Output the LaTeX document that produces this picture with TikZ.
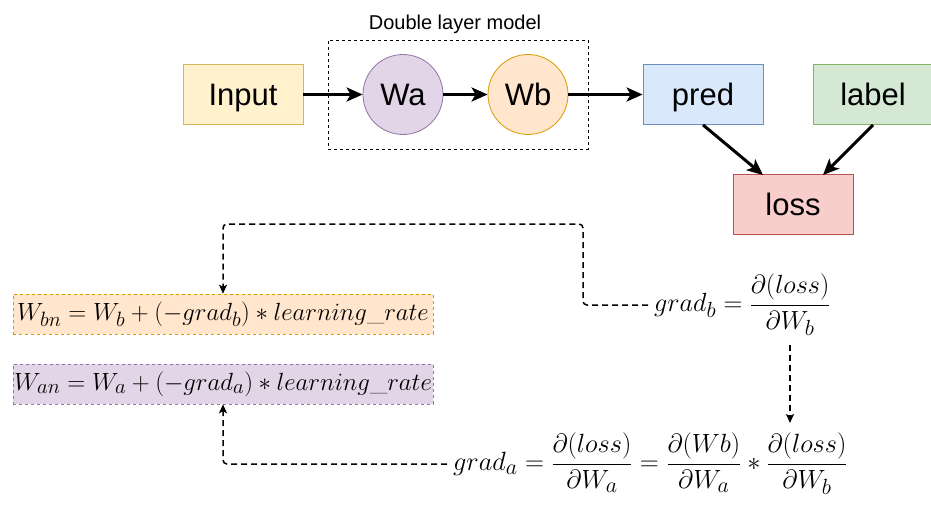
\documentclass[tikz,border=0pt]{standalone}
\usepackage{graphicx}
\usepackage{fontspec}
\newfontfamily\arialf{Liberation Sans}
\usetikzlibrary{arrows.meta}
\definecolor{yfill}{HTML}{FFF2CC}\definecolor{ydraw}{HTML}{D6B656}
\definecolor{pfill}{HTML}{E1D5E7}\definecolor{pdraw}{HTML}{9673A6}
\definecolor{ofill}{HTML}{FFE6CC}\definecolor{odraw}{HTML}{D79B00}
\definecolor{bfill}{HTML}{DAE8FC}\definecolor{bdraw}{HTML}{6C8EBF}
\definecolor{gfill}{HTML}{D5E8D4}\definecolor{gdraw}{HTML}{82B366}
\definecolor{rfill}{HTML}{F8CECC}\definecolor{rdraw}{HTML}{B85450}
\begin{document}
\begin{tikzpicture}[x=1pt,y=-1pt,
  box/.style={draw, rectangle, minimum width=120pt, minimum height=60pt, inner sep=0pt, text height=22pt, text depth=0pt, line width=0.8pt, font=\arialf\fontsize{31}{34}\selectfont},
  circ/.style={draw, circle, minimum size=80pt, inner sep=0pt, text height=22pt, text depth=0pt, line width=0.8pt, font=\arialf\fontsize{31}{34}\selectfont},
  flow/.style={line width=3pt, -{Stealth[length=16pt,width=14pt,inset=4pt]}},
  back/.style={line width=1.5pt, dash pattern=on 6pt off 4pt, rounded corners=4pt, -{Stealth[length=9pt,width=8pt,inset=2pt]}},
  eqbox/.style={draw, rectangle, dashed, line width=0.6pt, minimum width=420pt, minimum height=40pt, inner sep=0pt, font=\fontsize{24.88}{28}\selectfont},
  eq/.style={inner ysep=0pt, inner xsep=6pt, font=\fontsize{24.88}{30}\selectfont}
]
\useasboundingbox (0,0) rectangle (931,512);

% model group
\node[draw, dashed, line width=0.6pt, minimum width=260pt, minimum height=109pt, inner sep=0pt] (grp) at (458,94.5) {};
\node[font=\arialf\fontsize{20}{23}\selectfont, inner sep=0pt] (grplbl) at (455,24) {Double layer model};

\node[box, fill=yfill, draw=ydraw] (inp) at (243,94.5) {Input};
\node[circ, fill=pfill, draw=pdraw] (wa) at (403,94.5) {Wa};
\node[circ, fill=ofill, draw=odraw] (wb) at (528,94.5) {Wb};
\node[box, fill=bfill, draw=bdraw] (pred) at (703,94.5) {pred};
\node[box, fill=gfill, draw=gdraw] (lab) at (873,94.5) {label};
\node[box, fill=rfill, draw=rdraw] (loss) at (793,204.5) {loss};

\coordinate (lossL) at (763,175);
\coordinate (lossR) at (823,175);
\draw[flow] (inp.east) -- (wa.west);
\draw[flow] (wa.east) -- (wb.west);
\draw[flow] (wb.east) -- (pred.west);
\draw[flow] (pred.south) -- (lossL);
\draw[flow] (lab.south) -- (lossR);

% equations
\node[eqbox, fill=ofill, draw=odraw] (wbn) at (223,314) {$W_{bn} = W_b + (-grad_b) * learning\_rate$};
\node[eqbox, fill=pfill, draw=pdraw] (wan) at (223,384) {$W_{an} = W_a + (-grad_a) * learning\_rate$};

\node[eq, anchor=west] (gradb) at (648,305) {\scalebox{1.055}{$\displaystyle grad_b = \frac{\partial(loss)}{\partial W_b}$}};
\node[eq, anchor=west] (grada) at (447,464) {\scalebox{1.06}{$\displaystyle grad_a = \frac{\partial(loss)}{\partial W_a} = \frac{\partial(Wb)}{\partial W_a} * \frac{\partial(loss)}{\partial W_b}$}};

\coordinate (kb) at (583,224);
\coordinate (gb1) at (790,345);
\coordinate (gb2) at (790,423);

\draw[back] (gradb.west) -| (kb) -| (wbn.north);
\draw[back] (grada.west) -| (wan.south);
\draw[back] (gb1) -- (gb2);
\end{tikzpicture}
\end{document}
